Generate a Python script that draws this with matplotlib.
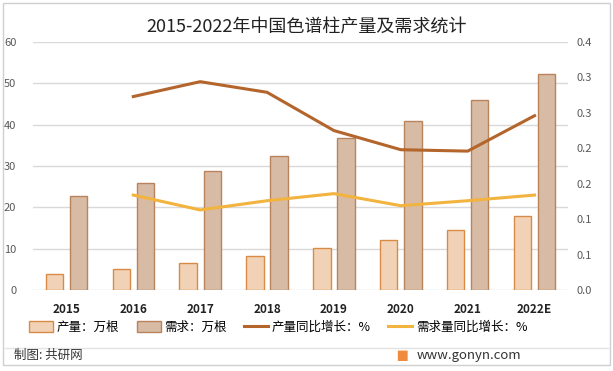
import numpy as np
import matplotlib
matplotlib.use("Agg")
import matplotlib.pyplot as plt
from matplotlib.patches import Rectangle, FancyBboxPatch
from matplotlib.lines import Line2D

plt.rcParams['font.family'] = ['Noto Sans CJK SC', 'DejaVu Sans']

# data
years = ['2015', '2016', '2017', '2018', '2019', '2020', '2021', '2022E']
production = [3.8, 5.0, 6.5, 8.2, 10.1, 12.0, 14.5, 17.8]
demand = [22.7, 25.8, 28.7, 32.4, 36.7, 40.8, 45.9, 52.2]
prod_growth = [None, 0.273, 0.294, 0.279, 0.225, 0.198, 0.196, 0.246]
demand_growth = [None, 0.134, 0.113, 0.126, 0.136, 0.119, 0.126, 0.134]
right_ticks = [0, 0.05, 0.10, 0.15, 0.20, 0.25, 0.30, 0.35]
right_labels = ['0.0', '0.1', '0.1', '0.2', '0.2', '0.3', '0.3', '0.4']

c_prod_fill = '#F1D2B6'
c_prod_edge = '#D98B45'
c_dem_fill = '#D7BBA5'
c_dem_edge = '#B9845C'
c_prod_line = '#B3652B'
c_dem_line = '#F2B33F'

fig = plt.figure(figsize=(6.13, 3.71), dpi=100)
ax = fig.add_axes([0.0538, 0.2183, 0.8728, 0.6685])
ax2 = ax.twinx()

x = np.arange(len(years))
w = 0.26
off = 0.18
ax.bar(x - off, production, w, color=c_prod_fill, edgecolor=c_prod_edge, linewidth=1.0, zorder=3)
ax.bar(x + off, demand, w, color=c_dem_fill, edgecolor=c_dem_edge, linewidth=1.0, zorder=3)

ax.set_xlim(-0.5, len(years) - 0.5)
ax.set_ylim(0, 60)
ax.set_yticks(np.arange(0, 61, 10))
ax.yaxis.grid(True, color='#D9D9D9', linewidth=1.0, zorder=0)
ax.set_axisbelow(True)
ax.set_xticks(x)
ax.set_xticklabels(years, fontweight='bold', fontsize=8.5, color='#222222')
ax.tick_params(axis='x', length=0, pad=9)
ax.tick_params(axis='y', length=0, labelsize=8, labelcolor='#595959', pad=12)
for s in ax.spines.values():
    s.set_visible(False)

gx = [i for i, v in enumerate(prod_growth) if v is not None]
ax2.plot(gx, [prod_growth[i] for i in gx], color=c_prod_line, linewidth=2.2, zorder=4)
ax2.plot(gx, [demand_growth[i] for i in gx], color=c_dem_line, linewidth=2.2, zorder=4)
ax2.set_ylim(0, 0.35)
ax2.set_yticks(right_ticks)
ax2.set_yticklabels(right_labels)
ax2.tick_params(axis='y', length=0, labelsize=8, labelcolor='#595959', pad=6)
for s in ax2.spines.values():
    s.set_visible(False)

fig.text(0.5, 0.925, '2015-2022年中国色谱柱产量及需求统计', ha='center', va='center',
         fontsize=13, color='#222222')

handles = [
    Rectangle((0, 0), 1, 1, facecolor=c_prod_fill, edgecolor=c_prod_edge, linewidth=1.0),
    Rectangle((0, 0), 1, 1, facecolor=c_dem_fill, edgecolor=c_dem_edge, linewidth=1.0),
    Line2D([], [], color=c_prod_line, linewidth=2.2),
    Line2D([], [], color=c_dem_line, linewidth=2.2),
]
labels = ['产量：万根', '需求：万根', '产量同比增长：%', '需求量同比增长：%']
fig.legend(handles, labels, loc='center', bbox_to_anchor=(0.454, 0.118), ncol=4,
           frameon=False, fontsize=9, handlelength=1.9, handletextpad=0.3,
           columnspacing=1.4, handleheight=0.9, borderpad=0.2)

# footer
fig.add_artist(Line2D([0.008, 0.992], [0.062, 0.062], color='#E3E3E3', linewidth=1.0))
fig.text(0.023, 0.042, '制图: 共研网', ha='left', va='center', fontsize=9, color='#333333')
fig.add_artist(FancyBboxPatch((0.650, 0.028), 0.014, 0.026, boxstyle='round,pad=0.001',
                              facecolor='#F08A3C', edgecolor='none'))
fig.text(0.679, 0.042, 'www.gonyn.com', ha='left', va='center', fontsize=9.5, color='#333333')

# outer frame
fig.add_artist(Rectangle((0.005, 0.015), 0.99, 0.978, fill=False, edgecolor='#D0D0D0',
                         linewidth=1.0))

fig.savefig('out.png', dpi=100)
